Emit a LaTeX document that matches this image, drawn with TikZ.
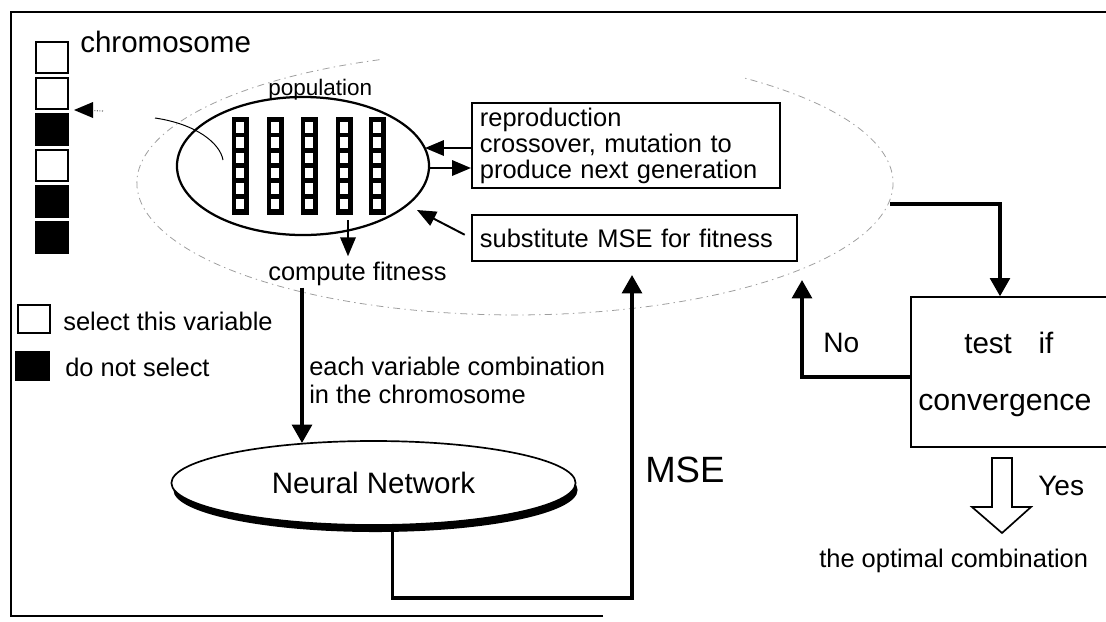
\documentclass[tikz,border=0pt]{standalone}
\usepackage{fontspec}
\setmainfont{Liberation Sans}
\usetikzlibrary{arrows.meta,calc,shapes.geometric}
\begin{document}
\begin{tikzpicture}[x=0.025cm,y=-0.025cm,
  lbl/.style={inner sep=0pt, font=\fontsize{18.1}{18.5}\selectfont},
  boxed/.style={draw, line width=1.4pt, rectangle, fill=white},
  bigarrow/.style={line width=2.6pt, -{Triangle[length=13pt,width=14pt]}},
  smallarrow/.style={line width=1.4pt, -{Triangle[length=13.5pt,width=11pt]}},
  ghost/.style={draw=black!38, line width=0.55pt, dash pattern=on 5pt off 3pt on 1pt off 3pt},
  gene/.style={draw, line width=1.1pt},
]
\useasboundingbox (0,0) rectangle (1106,621);
\fill[white] (0,0) rectangle (1106,621);

% faint enclosing ellipse (partial)
\draw[ghost] (379.5,59.7) arc[start angle=249, end angle=-53, x radius=378, y radius=132];

% frame
\draw[line width=1pt] (603,616) -- (11,616) -- (11,12) -- (1106,12);

% chromosome
\foreach \y/\c in {42/white,78/white,114/black,150/white,186/black,222/black}
  \draw[gene, fill=\c] (36,\y) rectangle (68,\y+31);
\node[lbl, font=\fontsize{21}{22}\selectfont, anchor=base west] (chrom) at (80,52) {chromosome};
\coordinate (chtip) at (74,110);
\coordinate (chtail) at (103,111);
\draw[black!55, line width=0.8pt, densely dotted] (chtail) -- (92,110.5);
\fill (chtip) -- (93,102) -- (93,118) -- cycle;

% population
\node[draw, ellipse, line width=1.6pt, minimum width=179.25pt, minimum height=98.16pt, inner sep=0pt] (pop) at (303,166) {};
\foreach \x in {240,275,309,344,377}{
  \fill (\x-8.5,117) rectangle (\x+8.5,215);
  \foreach \i in {0,...,5}
    \fill[white] (\x-3.6,122+\i*15.33) rectangle (\x+3.6,122+\i*15.33+10.5);
}
\coordinate (cc1) at (155,118);
\coordinate (cc2) at (223,160);
\draw[line width=0.7pt] (cc1) .. controls (196,124) and (220,143) .. (cc2);
\node[lbl, font=\fontsize{16}{17}\selectfont, anchor=base west] (poplbl) at (268,95) {population};

% boxes
\node[boxed, text width=207.7pt, inner xsep=5.69pt, inner ysep=0pt, minimum height=60.46pt, align=left, font=\fontsize{18.1}{18.5}\selectfont] (repro) at (626,145.5) {reproduction\\crossover, mutation to\\produce next generation};
\node[boxed, text width=219.8pt, inner xsep=5.69pt, inner ysep=0pt, minimum height=32.7pt, align=left, font=\fontsize{18.1}{18.5}\selectfont] (subst) at (634.5,238) {substitute MSE for fitness};

\coordinate (pa) at (425,148);
\draw[smallarrow] (repro.west |- pa) -- (pa);
\coordinate (pb) at (429,168);
\draw[smallarrow] (pb) -- (repro.west |- pb);
\coordinate (pc) at (417,210);
\draw[smallarrow, shorten <=5pt] (subst.west) -- (pc);

% compute fitness
\node[lbl, anchor=base west] (cf) at (268,280) {compute fitness};
\coordinate (pd) at (348,220);
\draw[smallarrow] (pd) -- ($(pd |- cf.north)+(0,-5)$);

\coordinate (nnin) at (302,443);
\draw[bigarrow] ($(cf.south -| nnin)+(0,2)$) -- (nnin);
\node[lbl, anchor=base west] (ev1) at (309,375) {each variable combination};
\node[lbl, anchor=base west] (ev2) at (309,403) {in the chromosome};

% neural network
\node[ellipse, fill=black, minimum width=287.4pt, minimum height=59.75pt, inner sep=0pt] (nnshadow) at (375.5,490) {};
\node[ellipse, draw, fill=white, line width=1.2pt, minimum width=287.4pt, minimum height=59.75pt, inner sep=0pt, font=\fontsize{21}{22}\selectfont] (nn) at (373.5,483) {Neural Network};

\coordinate (mse) at (632,275);
\draw[bigarrow] ($(nn.south)+(19,0)$) -- ++(0,72) -| (mse);
\node[lbl, font=\fontsize{26}{27}\selectfont, anchor=base west] (mselbl) at (645,482) {MSE};

% test box
\node[draw, line width=1pt, rectangle, minimum width=140.1pt, minimum height=106.7pt, inner sep=0pt] (test) at (1009.5,372) {};
\node[lbl, font=\fontsize{21}{22}\selectfont, anchor=base west] (t1) at (964,353) {test\hspace{19pt}if};
\node[lbl, font=\fontsize{21.5}{22}\selectfont, anchor=base west] (t2) at (918,410) {convergence};

\coordinate (rs) at (890,204);
\draw[bigarrow] (rs) -| ($(test.north)+(-9.5,0)$);
\coordinate (noend) at (802,280);
\draw[bigarrow] ($(test.west)+(0,5)$) -| (noend);
\node[lbl, font=\fontsize{20}{21}\selectfont, anchor=base west] (no) at (823,352) {No};

% yes block arrow
\draw[line width=1.2pt, fill=white, line join=miter] (992,458) -- (992,507) -- (972,507) -- (1002,533) -- (1031,507) -- (1012,507) -- (1012,458) -- cycle;
\node[lbl, font=\fontsize{20}{21}\selectfont, anchor=base west] (yes) at (1038,495) {Yes};
\node[lbl, anchor=base west] (opt) at (819,567) {the optimal combination};

% legend
\draw[gene, fill=white] (18,305) rectangle (50,333);
\draw[gene, fill=black] (16,352) rectangle (49,380);
\node[lbl, anchor=base west] (sel) at (63,330) {select this variable};
\node[lbl, anchor=base west] (dns) at (65,376) {do not select};
\end{tikzpicture}
\end{document}
